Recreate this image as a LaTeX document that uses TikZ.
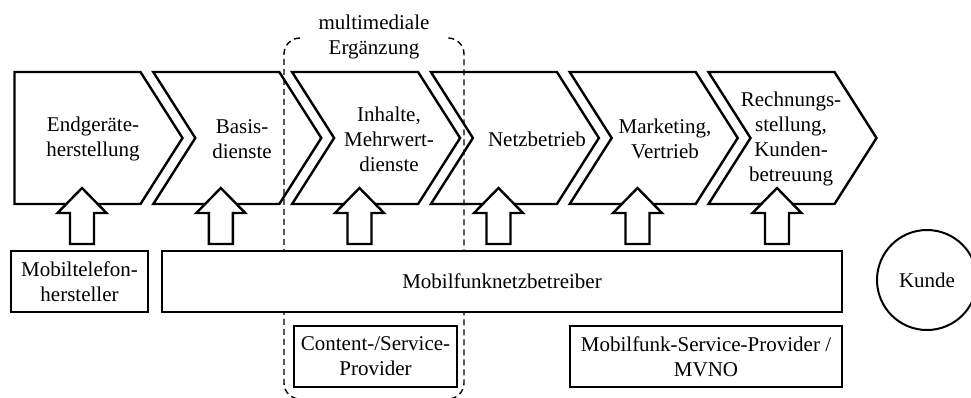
\documentclass[tikz,border=0pt]{standalone}
\usepackage{fontspec}
\setmainfont{Liberation Serif}
\begin{document}
\begin{tikzpicture}[x=1pt,y=-1pt,line join=miter,
  stage/.style={draw,line width=2.4pt},
  txt/.style={font=\fontsize{21}{25}\selectfont,align=center,inner sep=0pt},
  role/.style={draw,line width=2.2pt,fill=white,font=\fontsize{21}{25}\selectfont,align=center,inner sep=2pt},
  group/.style={draw,dashed,line width=1.4pt,dash pattern=on 6pt off 4pt,rounded corners=16pt},
  uparrow/.pic={\draw[line width=2.4pt,fill=white]
     (-12,0) -- (12,0) -- (12,-31) -- (24.5,-31) -- (0,-56) -- (-24.5,-31) -- (-12,-31) -- cycle;}]
\useasboundingbox (0,0) rectangle (971,397);

% value chain stages
\draw[stage] (14.5,72) -- (140.5,72) -- (182.5,138) -- (140.5,204) -- (14.5,204) -- cycle;
\foreach \L in {153.3,292.1,430.9,569.7,708.5}{
  \draw[stage] (\L,72) -- (\L+126,72) -- (\L+168,138) -- (\L+126,204) -- (\L,204) -- (\L+42,138) -- cycle;
}
\node[txt] (s1) at (93,139) {Endgeräte-\\herstellung};
\node[txt] (s2) at (242,139) {Basis-\\dienste};
\node[txt] (s3) at (389,139) {Inhalte,\\Mehrwert-\\dienste};
\node[txt] (s4) at (537,139) {Netzbetrieb};
\node[txt] (s5) at (665,139) {Marketing,\\Vertrieb};
\node[txt] (s6) at (791,139) {Rechnungs-\\stellung,\\Kunden-\\betreuung};

% multimedia supplement group
\draw[group] (300,38) -- (284,38) -- (284,399) -- (464,399) -- (464,38) -- (448,38);
\node[txt] (mm) at (374,37) {multimediale\\Ergänzung};

% contributions of the market players
\foreach \x in {82,220.8,359.5,498.5,637.5,777}{
  \pic at (\x,244) {uparrow};
}

\node[role,minimum width=137pt,minimum height=61pt] (mth) at (79.5,281.5) {Mobiltelefon-\\hersteller};
\node[role,minimum width=680pt,minimum height=61pt] (mnb) at (502,281.5) {Mobilfunknetzbetreiber};
\node[role,minimum width=163pt,minimum height=61pt] (csp) at (375.5,356.5) {Content-/Service-\\Provider};
\node[role,minimum width=272pt,minimum height=61pt] (msp) at (706,356.5) {Mobilfunk-Service-Provider /\\MVNO};
\node[draw,circle,line width=2pt,minimum size=100pt,inner sep=0pt,font=\fontsize{21}{25}\selectfont] (kd) at (927,280) {Kunde};
\end{tikzpicture}
\end{document}
